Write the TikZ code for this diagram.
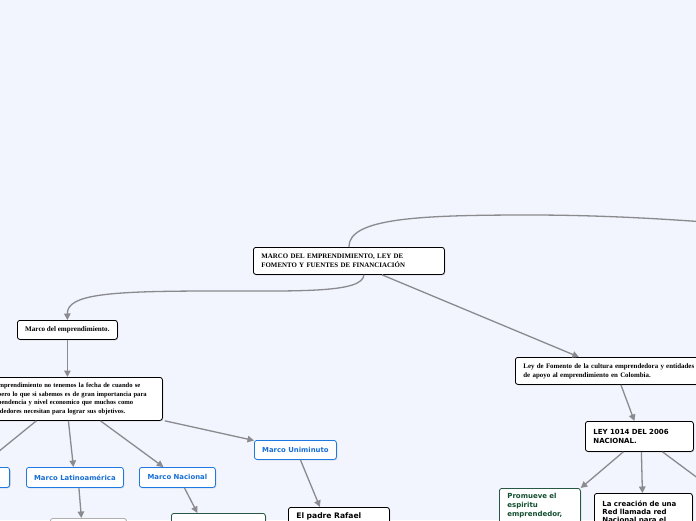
\documentclass[tikz,border=0pt]{standalone}
\usepackage{fontspec}
\newfontfamily\serifb{Liberation Serif}
\newfontfamily\sansb{DejaVu Sans}
\usetikzlibrary{shadows,arrows.meta,calc}
\definecolor{bgc}{RGB}{242,245,253}
\definecolor{linec}{RGB}{138,138,143}
\definecolor{bluec}{RGB}{30,122,226}
\definecolor{bluet}{RGB}{24,110,215}
\definecolor{greenc}{RGB}{38,88,68}
\definecolor{greent}{RGB}{18,78,48}
\definecolor{grayc}{RGB}{175,175,175}
\tikzset{
  boxbase/.style={fill=white, rounded corners=2.5pt, line width=0.8pt, anchor=north west,
    inner xsep=8pt, inner ysep=0pt, align=left,
    drop shadow={shadow xshift=0.9pt, shadow yshift=-0.9pt, opacity=0.3}},
  serifbox/.style={boxbase, draw=black, font=\serifb\bfseries\fontsize{6.9}{8.9}\selectfont},
  bluebox/.style={boxbase, draw=bluec, text=bluet, align=center, inner xsep=0pt,
    font=\sansb\bfseries\fontsize{6.9}{8.5}\selectfont},
  sansbox/.style={boxbase, draw=black, font=\sansb\bfseries\fontsize{7.0}{8.8}\selectfont},
  link/.style={draw=linec, line width=1.3pt},
  arr/.style={link, -{Triangle[length=6.5pt,width=6.5pt]}}
}
\begin{document}
\begin{tikzpicture}[x=1pt,y=-1pt]
\useasboundingbox (0,0) rectangle (696,520);
\fill[bgc] (0,0) rectangle (696,520);
\begin{scope}
\clip (0,0) rectangle (696,520);
% nodes
\node[serifbox, minimum width=191pt, minimum height=27pt, text width=175pt] (main) at (253,247)
  {MARCO DEL EMPRENDIMIENTO, LEY DE\\FOMENTO Y FUENTES DE FINANCIACIÓN};
\node[serifbox, minimum width=100pt, minimum height=19pt, align=center, inner xsep=0pt,
  font=\serifb\bfseries\fontsize{7.1}{8.9}\selectfont] (mde) at (17,320)
  {Marco del emprendimiento.};
\node[serifbox, minimum width=192pt, minimum height=43pt, text width=176pt,
  font=\serifb\bfseries\fontsize{6.6}{8.5}\selectfont] (big) at (-30,377)
  {En el emprendimiento no tenemos la fecha de cuando se\\inició, pero lo que si sabemos es de gran importancia para\\la independencia y nivel economico que muchos como\\emprendedores necesitan para lograr sus objetivos.};
\node[bluebox, minimum width=97pt, minimum height=20pt, anchor=north east] (mi) at (10,467) {Marco Internacional};
\node[bluebox, minimum width=97pt, minimum height=20pt] (mla) at (26,467) {Marco Latinoamérica};
\node[bluebox, minimum width=76pt, minimum height=20pt] (mn) at (139,467) {Marco Nacional};
\node[bluebox, minimum width=82pt, minimum height=19pt] (mu) at (254,440) {Marco Uniminuto};
\node[boxbase, draw=grayc, minimum width=76pt, minimum height=22pt] (gb) at (50,518) {};
\node[boxbase, draw=greenc, minimum width=94pt, minimum height=22pt] (gn) at (171,513) {};
\node[sansbox, minimum width=101pt, text width=85pt, inner ysep=5pt,
  font=\sansb\bfseries\fontsize{7.6}{9}\selectfont] (padre) at (288,507) {El padre Rafael\\\strut};
\node[serifbox, minimum width=187pt, minimum height=27pt, text width=171pt] (ley) at (515,357)
  {Ley de Fomento de la cultura emprendedora y entidades\\de apoyo al emprendimiento en Colombia.};
\node[sansbox, minimum width=108pt, minimum height=30pt, text width=92pt] (l1014) at (585,421)
  {LEY 1014 DEL 2006\\NACIONAL.};
\node[sansbox, draw=greenc, text=greent, minimum width=81pt, text width=65pt, inner ysep=5pt,
  font=\sansb\bfseries\fontsize{7.0}{9}\selectfont] (prom) at (499,488)
  {Promueve el\\espiritu\\emprendedor,\\\strut};
\node[sansbox, minimum width=98pt, text width=82pt, inner ysep=7pt,
  font=\sansb\bfseries\fontsize{7.0}{8.4}\selectfont] (red) at (594,493)
  {La creación de una\\Red llamada red\\Nacional para el\\\strut};
\coordinate (rtop) at (730,224);
\coordinate (rbot) at (730,502);
% connectors
\draw[link] (main.north) .. controls (348.5,218) and (420,215) .. (530,215)
  .. controls (600,215) and (670,219) .. (rtop);
\draw[arr] ($(main.south)+(15,0)$) .. controls (363,293) and (300,291) .. (215,291)
  .. controls (110,291) and (67,294) .. (mde.north);
\draw[arr] ($(main.south)+(33,0)$) -- ($(ley.north)+(-30,0)$);
\draw[arr] (mde.south) -- (mde.south |- big.north);
\draw[arr] ($(big.south)+(-30,0)$) -- ($(mi.north)+(18.5,0)$);
\draw[arr] ($(big.south)+(2,0)$) -- ($(mla.north)+(-1.5,0)$);
\draw[arr] ($(big.south)+(34,0)$) -- ($(mn.north)+(-14,0)$);
\draw[arr] ($(big.south east)+(2,0)$) -- ($(mu.north west)+(0,0.5)$);
\draw[arr] ($(mu.south)+(5,0)$) -- ($(padre.north)+(-19,0)$);
\draw[arr] ($(mla.south)+(4,0)$) -- ($(gb.north)+(-7,0)$);
\draw[arr] ($(mn.south)+(7,0)$) -- ($(gn.north)+(-21,0)$);
\draw[arr] ($(ley.south)+(12,0)$) -- ($(l1014.north)+(-5,0)$);
\draw[arr] ($(l1014.south)+(-16,0)$) -- (prom.north east);
\draw[arr] ($(l1014.south)+(2,0)$) -- ($(red.north)+(-1,0)$);
\draw[link] ($(l1014.south)+(23,0)$) -- (rbot);
\end{scope}
\end{tikzpicture}
\end{document}
